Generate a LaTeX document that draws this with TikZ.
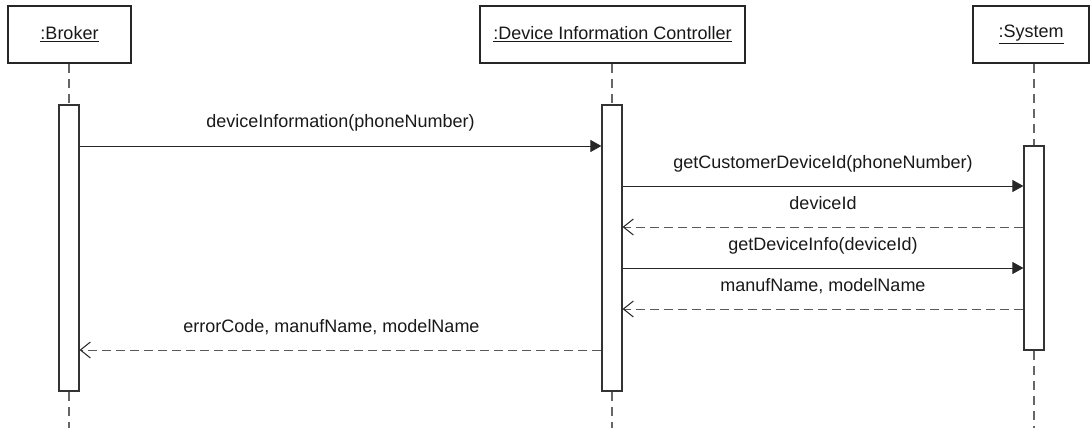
\documentclass[tikz,border=0pt]{standalone}
\usepackage{fontspec}
\setmainfont{Liberation Sans}
\usetikzlibrary{arrows.meta}
\begin{document}
\begin{tikzpicture}[x=1pt,y=-1pt,
  txt/.style={font=\fontsize{18}{21}\selectfont, text=black!90},
  obj/.style={txt, draw=black!85, line width=1.2pt, fill=white, minimum height=57pt, inner sep=0pt},
  act/.style={draw=black!80, line width=1.2pt, fill=white, minimum width=20pt, inner sep=0pt},
  life/.style={draw=black!60, line width=1.2pt, dash pattern=on 9pt off 6pt},
  call/.style={draw=black!85, line width=1pt, -{Triangle[length=11pt,width=12pt]}},
  reply/.style={draw=black!65, line width=1pt, dash pattern=on 9pt off 5pt, -{Straight Barb[length=10pt,width=16pt,line width=1pt,black!85]}},
  lbl/.style={txt, inner sep=0pt, anchor=base, midway, yshift=18pt}
]
\useasboundingbox (0,0) rectangle (1090,428);

% participants
\node[obj, minimum width=123pt] (broker) at (69.5,34.5) {\underline{:Broker}};
\node[obj, minimum width=265pt] (dic) at (612.5,34.5) {\underline{:Device Information Controller}};
\node[obj, minimum width=116pt] (sys) at (1031,34.5) {\underline{:System}};

% lifeline ends
\coordinate (endB) at (69,428);
\coordinate (endD) at (612,428);
\coordinate (endS) at (1034,428);

% activation bars
\node[act, minimum height=286pt] (aB) at (69,248) {};
\node[act, minimum height=286pt] (aD) at (612,248) {};
\node[act, minimum height=204pt] (aS) at (1034,248) {};

% lifelines
\draw[life] (broker.south -| aB.north) -- (aB.north);
\draw[life] (aB.south) -- (endB);
\draw[life] (dic.south -| aD.north) -- (aD.north);
\draw[life] (aD.south) -- (endD);
\draw[life] (sys.south -| aS.north) -- (aS.north);
\draw[life] (aS.south) -- (endS);

% messages
\draw[call] (aB.east |- 0,146) -- node[lbl] {deviceInformation(phoneNumber)} (aD.west |- 0,146);
\draw[call] (aD.east |- 0,186) -- node[lbl] {getCustomerDeviceId(phoneNumber)} (aS.west |- 0,186);
\draw[reply] (aS.west |- 0,227) -- node[lbl] {deviceId} (aD.east |- 0,227);
\draw[call] (aD.east |- 0,268) -- node[lbl] {getDeviceInfo(deviceId)} (aS.west |- 0,268);
\draw[reply] (aS.west |- 0,309) -- node[lbl] {manufName, modelName} (aD.east |- 0,309);
\draw[reply] (aD.west |- 0,350) -- node[lbl, xshift=-9pt] {errorCode, manufName, modelName} (aB.east |- 0,350);
\end{tikzpicture}
\end{document}
